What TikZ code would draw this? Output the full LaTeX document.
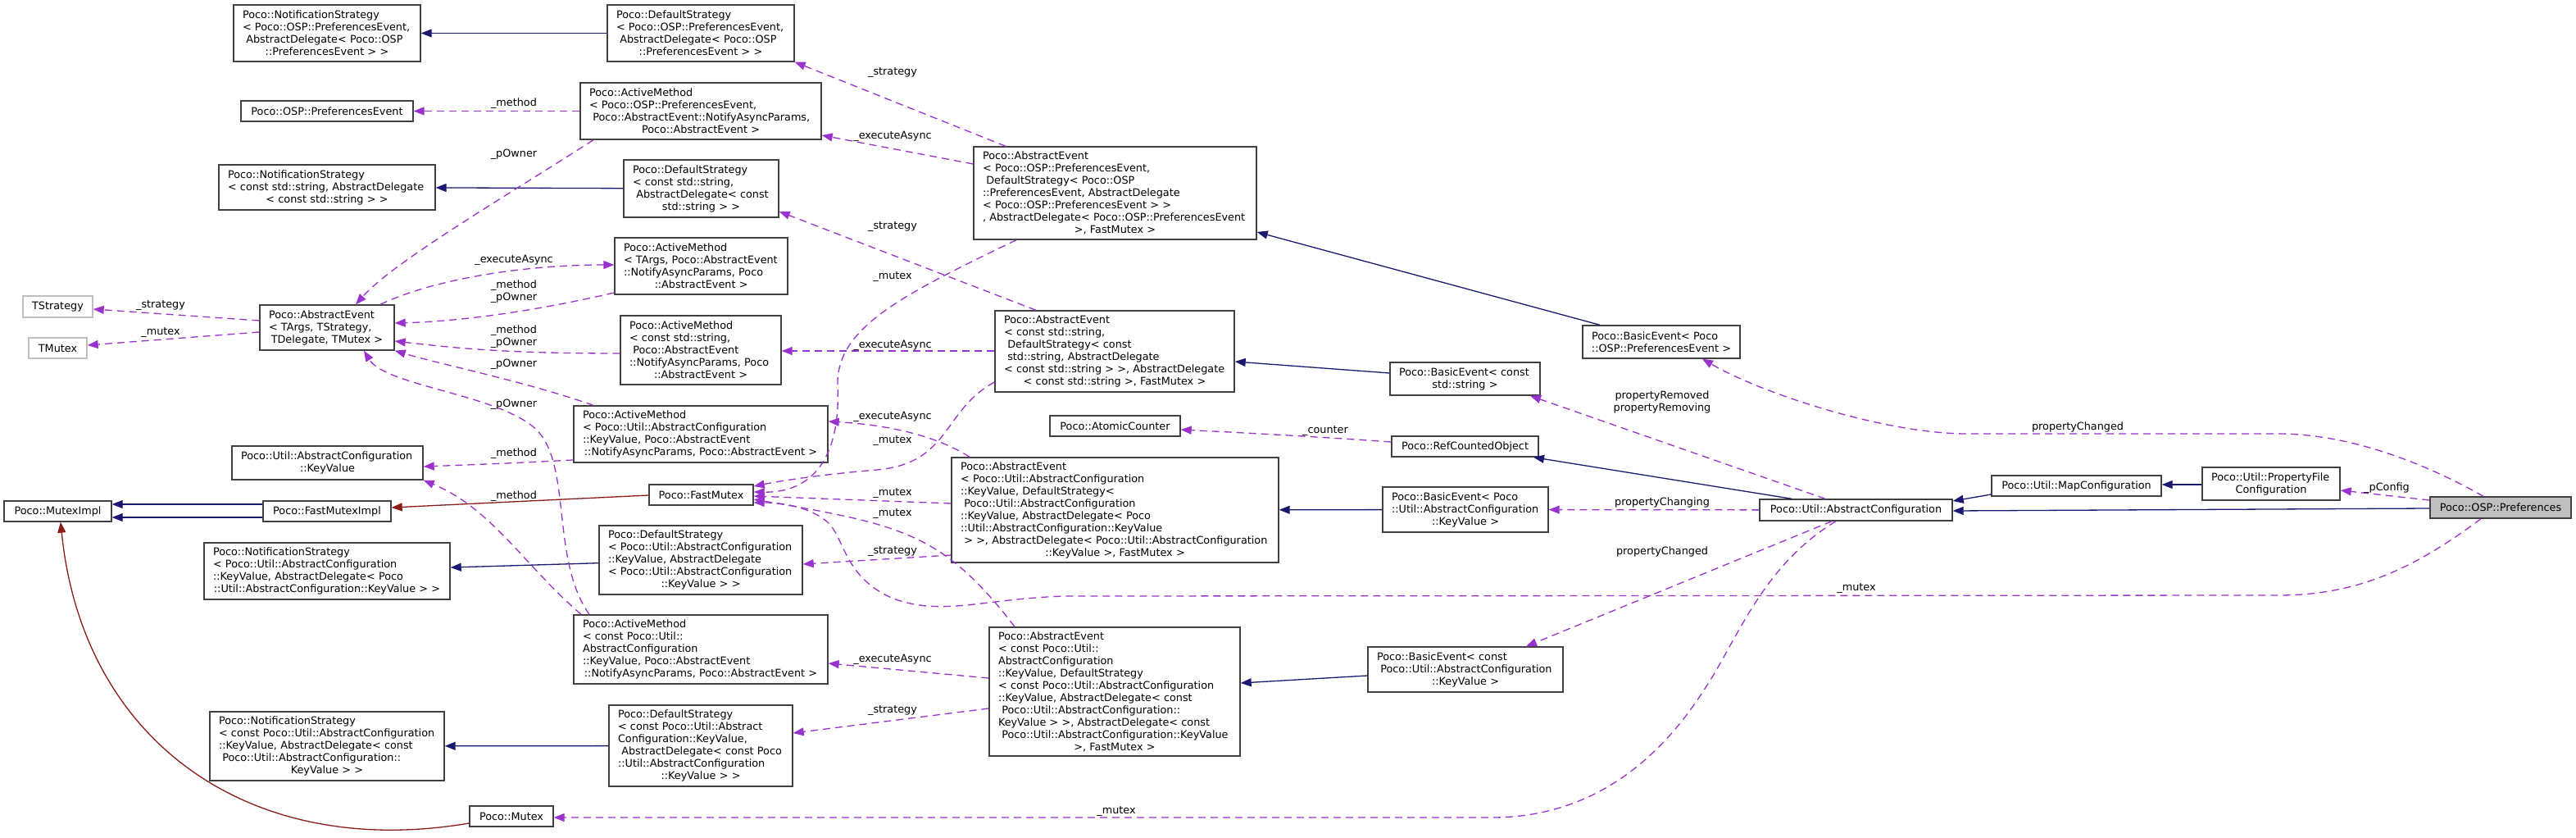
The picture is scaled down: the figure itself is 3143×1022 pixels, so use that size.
\documentclass[tikz,border=0pt]{standalone}
\usepackage{fontspec}
\setmainfont{DejaVu Sans}
\usetikzlibrary{arrows.meta}
\definecolor{inh}{HTML}{191970}
\definecolor{prv}{HTML}{8B1A1A}
\definecolor{usg}{HTML}{9A32CD}
\definecolor{brd}{HTML}{404040}
\newcommand\lineL[1]{\makebox[\linewidth][l]{#1}}
\newcommand\lineC[1]{\makebox[\linewidth][c]{#1}}
\tikzset{
 box/.style={draw=brd, line width=1.4pt, rectangle, inner xsep=11pt, inner ysep=2pt, fill=white, font=\fontsize{12.8}{15}\selectfont},
 ghost/.style={draw=gray!50},
 lbl/.style={inner sep=0pt, font=\fontsize{12.8}{15}\selectfont, align=center},
 inhe/.style={draw=inh, line width=1.3pt, -{Triangle[length=13pt,width=10pt]}},
 prve/.style={draw=prv, line width=1.3pt, -{Triangle[length=13pt,width=10pt]}},
 usee/.style={draw=usg, line width=1.3pt, dash pattern=on 9pt off 6pt, -{Triangle[length=13pt,width=10pt]}},
}
\newcommand\nd[7][]{%
 \pgfmathsetmacro\ndw{#5-#3}\pgfmathsetmacro\ndh{#6-#4}\pgfmathsetmacro\ndtw{#5-#3-22}%
 \pgfmathsetmacro\ndcx{(#3+#5)/2}\pgfmathsetmacro\ndcy{(#4+#6)/2}%
 \node[box,#1,minimum width=\ndw pt,text width=\ndtw pt,minimum height=\ndh pt] (#2) at (\ndcx,\ndcy) {#7};}
\begin{document}
\begin{tikzpicture}[x=1pt,y=-1pt]
\fill[white] (0,0) rectangle (3143,1022);
\useasboundingbox (0,0) rectangle (3143,1022);

% nodes
\nd{nsPE}{285}{6}{513}{75}{\lineL{Poco::NotificationStrategy}\\\lineL{< Poco::OSP::PreferencesEvent,}\\\lineL{\ AbstractDelegate< Poco::OSP}\\\lineC{::PreferencesEvent > >}}
\nd{dsPE}{741}{6}{969}{75}{\lineL{Poco::DefaultStrategy}\\\lineL{< Poco::OSP::PreferencesEvent,}\\\lineL{\ AbstractDelegate< Poco::OSP}\\\lineC{::PreferencesEvent > >}}
\nd{pe}{294}{123}{504}{148}{\lineC{Poco::OSP::PreferencesEvent}}
\nd{amPE}{708}{101}{1002}{170}{\lineL{Poco::ActiveMethod}\\\lineL{< Poco::OSP::PreferencesEvent,}\\\lineL{\ Poco::AbstractEvent::NotifyAsyncParams,}\\\lineC{Poco::AbstractEvent >}}
\nd{nsStr}{267}{201}{531}{256}{\lineL{Poco::NotificationStrategy}\\\lineL{< const std::string, AbstractDelegate}\\\lineC{< const std::string > >}}
\nd{dsStr}{761}{195}{950}{265}{\lineL{Poco::DefaultStrategy}\\\lineL{< const std::string,}\\\lineL{\ AbstractDelegate< const}\\\lineC{std::string > >}}
\nd{amT}{750}{290}{961}{359}{\lineL{Poco::ActiveMethod}\\\lineL{< TArgs, Poco::AbstractEvent}\\\lineL{::NotifyAsyncParams, Poco}\\\lineC{::AbstractEvent >}}
\nd{amStr}{757}{385}{953}{469}{\lineL{Poco::ActiveMethod}\\\lineL{< const std::string,}\\\lineL{\ Poco::AbstractEvent}\\\lineL{::NotifyAsyncParams, Poco}\\\lineC{::AbstractEvent >}}
\nd{aeT}{317}{372}{481}{427}{\lineL{Poco::AbstractEvent}\\\lineL{< TArgs, TStrategy,}\\\lineC{TDelegate, TMutex >}}
\nd[ghost]{tStrategy}{28}{361}{113}{387}{\lineC{TStrategy}}
\nd[ghost]{tMutex}{35}{412}{106}{437}{\lineC{TMutex}}
\nd{aePE}{1188}{179}{1533}{292}{\lineL{Poco::AbstractEvent}\\\lineL{< Poco::OSP::PreferencesEvent,}\\\lineL{\ DefaultStrategy< Poco::OSP}\\\lineL{::PreferencesEvent, AbstractDelegate}\\\lineL{< Poco::OSP::PreferencesEvent > >}\\\lineL{, AbstractDelegate< Poco::OSP::PreferencesEvent}\\\lineC{>, FastMutex >}}
\nd{aeStr}{1214}{379}{1506}{478}{\lineL{Poco::AbstractEvent}\\\lineL{< const std::string,}\\\lineL{\ DefaultStrategy< const}\\\lineL{\ std::string, AbstractDelegate}\\\lineL{< const std::string > >, AbstractDelegate}\\\lineC{< const std::string >, FastMutex >}}
\nd{atomic}{1281}{507}{1440}{532}{\lineC{Poco::AtomicCounter}}
\nd{amKV}{700}{495}{1010}{564}{\lineL{Poco::ActiveMethod}\\\lineL{< Poco::Util::AbstractConfiguration}\\\lineL{::KeyValue, Poco::AbstractEvent}\\\lineC{::NotifyAsyncParams, Poco::AbstractEvent >}}
\nd{kv}{283}{544}{516}{585}{\lineL{Poco::Util::AbstractConfiguration}\\\lineC{::KeyValue}}
\nd{mutexImpl}{5}{611}{136}{636}{\lineC{Poco::MutexImpl}}
\nd{fastMutexImpl}{321}{611}{477}{636}{\lineC{Poco::FastMutexImpl}}
\nd{fastMutex}{792}{591}{919}{616}{\lineC{Poco::FastMutex}}
\nd{aeKV}{1161}{558}{1560}{686}{\lineL{Poco::AbstractEvent}\\\lineL{< Poco::Util::AbstractConfiguration}\\\lineL{::KeyValue, DefaultStrategy<}\\\lineL{\ Poco::Util::AbstractConfiguration}\\\lineL{::KeyValue, AbstractDelegate< Poco}\\\lineL{::Util::AbstractConfiguration::KeyValue}\\\lineL{\ > >, AbstractDelegate< Poco::Util::AbstractConfiguration}\\\lineC{::KeyValue >, FastMutex >}}
\nd{dsKV}{731}{641}{979}{725}{\lineL{Poco::DefaultStrategy}\\\lineL{< Poco::Util::AbstractConfiguration}\\\lineL{::KeyValue, AbstractDelegate}\\\lineL{< Poco::Util::AbstractConfiguration}\\\lineC{::KeyValue > >}}
\nd{nsKV}{249}{662}{549}{731}{\lineL{Poco::NotificationStrategy}\\\lineL{< Poco::Util::AbstractConfiguration}\\\lineL{::KeyValue, AbstractDelegate< Poco}\\\lineC{::Util::AbstractConfiguration::KeyValue > >}}
\nd{amCKV}{700}{750}{1010}{834}{\lineL{Poco::ActiveMethod}\\\lineL{< const Poco::Util::}\\\lineL{AbstractConfiguration}\\\lineL{::KeyValue, Poco::AbstractEvent}\\\lineC{::NotifyAsyncParams, Poco::AbstractEvent >}}
\nd{dsCKV}{743}{860}{967}{959}{\lineL{Poco::DefaultStrategy}\\\lineL{< const Poco::Util::Abstract}\\\lineL{Configuration::KeyValue,}\\\lineL{\ AbstractDelegate< const Poco}\\\lineL{::Util::AbstractConfiguration}\\\lineC{::KeyValue > >}}
\nd{nsCKV}{256}{868}{542}{952}{\lineL{Poco::NotificationStrategy}\\\lineL{< const Poco::Util::AbstractConfiguration}\\\lineL{::KeyValue, AbstractDelegate< const}\\\lineL{\ Poco::Util::AbstractConfiguration::}\\\lineC{KeyValue > >}}
\nd{aeCKV}{1207}{765}{1513}{922}{\lineL{Poco::AbstractEvent}\\\lineL{< const Poco::Util::}\\\lineL{AbstractConfiguration}\\\lineL{::KeyValue, DefaultStrategy}\\\lineL{< const Poco::Util::AbstractConfiguration}\\\lineL{::KeyValue, AbstractDelegate< const}\\\lineL{\ Poco::Util::AbstractConfiguration::}\\\lineL{KeyValue > >, AbstractDelegate< const}\\\lineL{\ Poco::Util::AbstractConfiguration::KeyValue}\\\lineC{>, FastMutex >}}
\nd{mutex}{573}{983}{675}{1008}{\lineC{Poco::Mutex}}
\nd{bePE}{1931}{397}{2123}{437}{\lineL{Poco::BasicEvent< Poco}\\\lineC{::OSP::PreferencesEvent >}}
\nd{beStr}{1696}{442}{1879}{482}{\lineL{Poco::BasicEvent< const}\\\lineC{std::string >}}
\nd{refCounted}{1698}{532}{1877}{557}{\lineC{Poco::RefCountedObject}}
\nd{beKV}{1687}{594}{1889}{649}{\lineL{Poco::BasicEvent< Poco}\\\lineL{::Util::AbstractConfiguration}\\\lineC{::KeyValue >}}
\nd{beCKV}{1669}{789}{1907}{844}{\lineL{Poco::BasicEvent< const}\\\lineL{\ Poco::Util::AbstractConfiguration}\\\lineC{::KeyValue >}}
\nd{ac}{2147}{609}{2382}{635}{\lineC{Poco::Util::AbstractConfiguration}}
\nd{mapConf}{2430}{580}{2637}{605}{\lineC{Poco::Util::MapConfiguration}}
\nd{propFile}{2687}{570}{2855}{610}{\lineL{Poco::Util::PropertyFile}\\\lineC{Configuration}}
\nd[fill=gray!50]{prefs}{2965}{606}{3137}{632}{\lineC{Poco::OSP::Preferences}}

% inheritance (solid blue)
\draw[inhe] (dsPE) -- (nsPE);
\draw[inhe] (dsStr) -- (nsStr);
\draw[inhe] (dsKV) -- (nsKV);
\draw[inhe] (dsCKV) -- (nsCKV);
\draw[inhe] (bePE.north -| 1952,0) -- (aePE.east |- 0,283);
\draw[inhe] (beStr.west |- 0,455) -- (aeStr.east |- 0,441);
\draw[inhe] (beKV) -- (aeKV);
\draw[inhe] (beCKV.west |- 0,824) -- (aeCKV.east |- 0,833);
\draw[inhe] (ac.north -| 2186,0) -- (refCounted.south -| 1871,0);
\draw[inhe] (mapConf.west |- 0,603) -- (ac.east |- 0,611);
\draw[inhe] (propFile.west |- 0,591) -- (mapConf.east |- 0,591);
\draw[inhe] (prefs.west |- 0,620) -- (ac.east |- 0,623);
\draw[inhe] (fastMutexImpl.west |- 0,615) -- (mutexImpl.east |- 0,615);
\draw[inhe] (fastMutexImpl.west |- 0,631) -- (mutexImpl.east |- 0,631);
% private inheritance (red)
\draw[prve] (fastMutex.west |- 0,604) -- (fastMutexImpl.east |- 0,619);
\draw[prve] (mutex.west |- 0,1004) .. controls (300,1050) and (100,900) .. (mutexImpl.south -| 74,0);

% usage (dashed purple)
\draw[usee] (amPE) -- (pe);
\draw[usee] (amPE.south -| 724,0) .. controls (600,250) and (480,320) .. (aeT.north -| 434,0);
\draw[usee] (aeT.north -| 464,0) .. controls (530,340) and (640,323) .. (amT.west |- 0,323);
\draw[usee] (amT.west |- 0,357) .. controls (650,380) and (560,392) .. (aeT.east |- 0,394);
\draw[usee] (amStr.west |- 0,431) .. controls (620,431) and (560,425) .. (aeT.east |- 0,416);
\draw[usee] (amKV.north -| 724,0) .. controls (640,465) and (540,445) .. (aeT.south east);
\draw[usee] (amCKV.north -| 719,0) .. controls (670,680) and (700,560) .. (650,520) .. controls (600,480) and (470,470) .. (aeT.south -| 444,0);
\draw[usee] (aeT.west |- 0,391) -- (tStrategy.east |- 0,377);
\draw[usee] (aeT.west |- 0,405) -- (tMutex.east |- 0,421);
\draw[usee] (amKV.west |- 0,561) .. controls (620,565) .. (kv.east |- 0,569);
\draw[usee] (amCKV.north -| 709,0) .. controls (640,690) and (600,620) .. (kv.south east);
\draw[usee] (aePE.north -| 1227,0) -- (dsPE.south east);
\draw[usee] (aePE.west |- 0,200) -- (amPE.east |- 0,165);
\draw[usee] (aeStr.north -| 1264,0) -- (dsStr.east |- 0,258);
\draw[usee] (aeStr.west |- 0,428) -- (amStr.east |- 0,428);
\draw[usee] (aePE.south -| 1240,0) .. controls (1100,360) and (1020,400) .. (1022,470) .. controls (1026,560) and (990,601) .. (fastMutex.east |- 0,600);
\draw[usee] (aeStr.west |- 0,466) .. controls (1150,500) and (1160,565) .. (1070,573) .. controls (1010,578) and (960,585) .. (fastMutex.east |- 0,593);
\draw[usee] (aeKV.west |- 0,614) -- (fastMutex.east |- 0,605);
\draw[usee] (aeCKV.north -| 1238,0) .. controls (1150,650) and (1100,640) .. (fastMutex.east |- 0,609);
\draw[usee] (prefs.south -| 3027,0) .. controls (2950,690) and (2880,726) .. (2780,726) -- (1300,727) .. controls (1200,730) and (1150,752) .. (1090,730) .. controls (1030,705) and (1030,655) .. (1010,637) .. controls (990,620) and (960,613) .. (fastMutex.east |- 0,613);
\draw[usee] (aeKV.north -| 1183,0) .. controls (1140,530) and (1080,518) .. (amKV.east |- 0,514);
\draw[usee] (aeKV.west |- 0,677) -- (dsKV.east |- 0,688);
\draw[usee] (aeCKV.west |- 0,827) -- (amCKV.east |- 0,809);
\draw[usee] (aeCKV.west |- 0,864) -- (dsCKV.east |- 0,894);
\draw[usee] (refCounted.west |- 0,539) .. controls (1600,532) and (1500,527) .. (atomic.east |- 0,524);
\draw[usee] (ac.north -| 2227,0) -- (beStr.south -| 1867,0);
\draw[usee] (ac) -- (beKV);
\draw[usee] (ac.south -| 2235,0) -- (beCKV.north -| 1862,0);
\draw[usee] (prefs.north -| 3030,0) .. controls (2950,560) and (2860,529) .. (2780,529) -- (2400,529) .. controls (2300,529) and (2150,480) .. (bePE.south -| 2077,0);
\draw[usee] (prefs.west |- 0,610) -- (propFile.east |- 0,598);
\draw[usee] (ac.south -| 2240,0) .. controls (2150,690) and (2120,780) .. (2080,840) .. controls (2010,950) and (1920,997) .. (1820,997) -- (mutex.east |- 0,997);

% labels
\node[lbl] (l1) at (627,126) {\_method};
\node[lbl] (l2) at (627,188) {\_pOwner};
\node[lbl] (l3) at (627,317) {\_executeAsync};
\node[lbl] (l4) at (627,356) {\_method\\\_pOwner};
\node[lbl] (l5) at (196,373) {\_strategy};
\node[lbl] (l6) at (196,406) {\_mutex};
\node[lbl] (l7) at (627,411) {\_method\\\_pOwner};
\node[lbl] (l8) at (627,444) {\_pOwner};
\node[lbl] (l9) at (627,493) {\_pOwner};
\node[lbl] (l10) at (627,553) {\_method};
\node[lbl] (l11) at (627,605) {\_method};
\node[lbl] (l12) at (1089,89) {\_strategy};
\node[lbl] (l13) at (1089,166) {\_executeAsync};
\node[lbl] (l14) at (1089,277) {\_strategy};
\node[lbl] (l15) at (1089,338) {\_mutex};
\node[lbl] (l16) at (1089,421) {\_executeAsync};
\node[lbl] (l17) at (1089,508) {\_executeAsync};
\node[lbl] (l18) at (1089,538) {\_mutex};
\node[lbl] (l19) at (1089,602) {\_mutex};
\node[lbl] (l20) at (1089,627) {\_mutex};
\node[lbl] (l21) at (1089,673) {\_strategy};
\node[lbl] (l22) at (1089,804) {\_executeAsync};
\node[lbl] (l23) at (1089,867) {\_strategy};
\node[lbl] (l24) at (1362,990) {\_mutex};
\node[lbl] (l25) at (1617,526) {\_counter};
\node[lbl] (l26) at (2028,490) {propertyRemoved\\propertyRemoving};
\node[lbl] (l27) at (2028,613) {propertyChanging};
\node[lbl] (l28) at (2028,673) {propertyChanged};
\node[lbl] (l29) at (2265,718) {\_mutex};
\node[lbl] (l30) at (2535,521) {propertyChanged};
\node[lbl] (l31) at (2912,595) {\_pConfig};
\end{tikzpicture}
\end{document}
